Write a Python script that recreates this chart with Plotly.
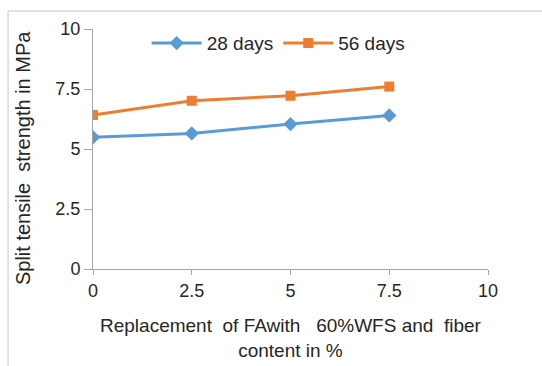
import plotly.graph_objects as go

x_vals = [0, 2.5, 5, 7.5]
days28 = [5.49, 5.65, 6.04, 6.40]
days56 = [6.42, 7.01, 7.22, 7.60]
x_ticks = [0, 2.5, 5, 7.5, 10]
y_ticks = [0, 2.5, 5, 7.5, 10]
x_title = "Replacement\u00a0 of FAwith\u00a0\u00a0 60%WFS and\u00a0 fiber<br>content in %"
y_title = "Split tensile\u00a0 strength in MPa"

fig = go.Figure()
fig.add_trace(go.Scatter(x=x_vals, y=days28, name="28 days", mode="lines+markers",
                         line=dict(color="#5B9BD5", width=3),
                         marker=dict(symbol="diamond", size=11, color="#5B9BD5")))
fig.add_trace(go.Scatter(x=x_vals, y=days56, name="56 days", mode="lines+markers",
                         line=dict(color="#ED7D31", width=3),
                         marker=dict(symbol="square", size=10, color="#ED7D31")))

font = dict(family="Liberation Sans, Arial, sans-serif", size=18, color="#262626")
fig.update_layout(
    width=542, height=366,
    margin=dict(l=93, r=54, t=29, b=97, autoexpand=False),
    paper_bgcolor="white", plot_bgcolor="white",
    font=font,
    showlegend=True,
    legend=dict(orientation="h", x=0.47, y=1.02, xanchor="center", yanchor="top",
                font=dict(size=19, color="#262626"), bgcolor="rgba(0,0,0,0)",
                itemwidth=50, tracegroupgap=0),
    xaxis=dict(range=[0, 10], tickvals=x_ticks, ticktext=[str(v) for v in x_ticks],
               showgrid=False, zeroline=False, showline=True, linecolor="#A6A6A6",
               ticks="outside", ticklen=5, tickcolor="#A6A6A6",
               tickfont=dict(size=18), automargin=False),
    yaxis=dict(range=[0, 10], tickvals=y_ticks, ticktext=[str(v) for v in y_ticks],
               showgrid=False, zeroline=False, showline=True, linecolor="#A6A6A6",
               ticks="outside", ticklen=8, tickcolor="#A6A6A6",
               tickfont=dict(size=18), automargin=False),
)
fig.add_annotation(text=x_title, xref="paper", yref="paper", x=0.5, y=0,
                   xanchor="center", yanchor="top", yshift=-44, showarrow=False,
                   font=dict(size=19, color="#262626"))
fig.add_annotation(text=y_title, xref="paper", yref="paper", x=-0.177, y=0.4625,
                   xanchor="center", yanchor="middle", textangle=-90, showarrow=False,
                   font=dict(size=20, color="#262626"))
fig.add_shape(type="line", xref="paper", yref="paper", x0=-0.215, x1=1.2, y0=1.075, y1=1.075,
              line=dict(color="#C8C8C8", width=1))
fig.add_shape(type="line", xref="paper", yref="paper", x0=-0.215, x1=-0.215, y0=-0.45, y1=1.075,
              line=dict(color="#C8C8C8", width=1))
fig.write_html("out.html")
